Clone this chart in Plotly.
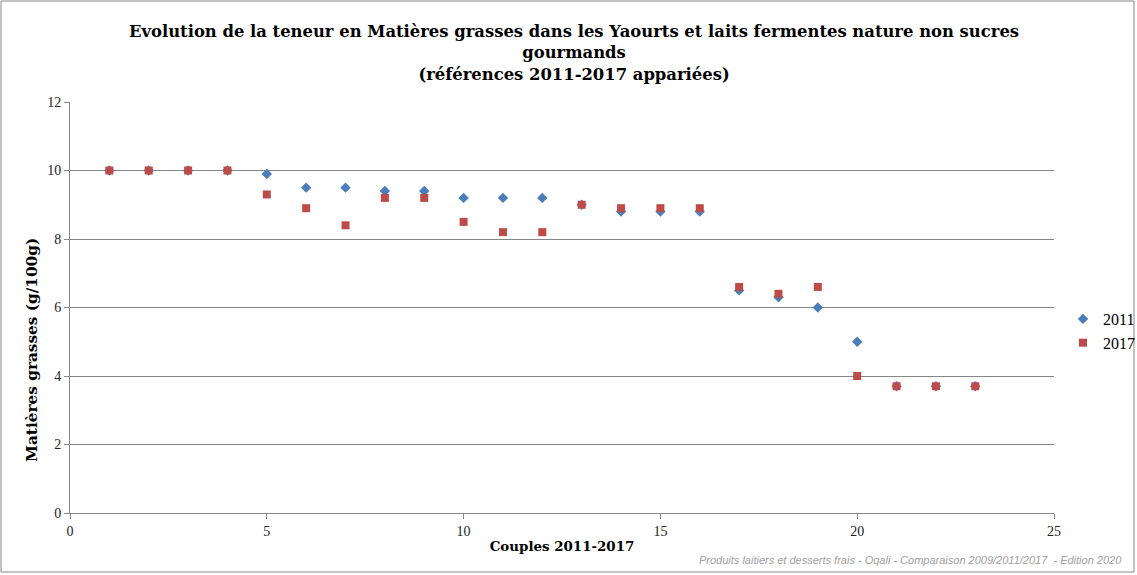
import plotly.graph_objects as go

couples = list(range(1, 24))
mg_2011 = [10, 10, 10, 10, 9.9, 9.5, 9.5, 9.4, 9.4, 9.2, 9.2, 9.2, 9.0, 8.8, 8.8, 8.8, 6.5, 6.3, 6.0, 5.0, 3.7, 3.7, 3.7]
mg_2017 = [10, 10, 10, 10, 9.3, 8.9, 8.4, 9.2, 9.2, 8.5, 8.2, 8.2, 9.0, 8.9, 8.9, 8.9, 6.6, 6.4, 6.6, 4.0, 3.7, 3.7, 3.7]

W, H = 1137, 575
L, R, T, B = 70, 83, 102, 62
pw, ph = W - L - R, H - T - B

def px_x(x):
    return (x - L) / pw

def px_y(y):
    return (T + ph - y) / ph

fig = go.Figure()
fig.add_trace(go.Scatter(x=couples, y=mg_2011, mode="markers", name="2011",
                         marker=dict(symbol="diamond", size=8, color="#4a7ebb")))
fig.add_trace(go.Scatter(x=couples, y=mg_2017, mode="markers", name="2017",
                         marker=dict(symbol="square", size=8, color="#be4b48")))

serif = "DejaVu Serif"
tickf = dict(family="Liberation Serif", size=14, color="#222")
fig.update_layout(
    width=W, height=H,
    margin=dict(l=L, r=R, t=T, b=B, autoexpand=False),
    paper_bgcolor="white", plot_bgcolor="white",
    xaxis=dict(range=[0, 25], tickvals=[0, 5, 10, 15, 20, 25], showgrid=False,
               showline=True, linecolor="#868686", linewidth=1,
               ticks="outside", ticklen=5, tickcolor="#868686",
               tickfont=tickf,
               title=dict(text="Couples 2011-2017", standoff=3,
                          font=dict(family=serif, size=13.4, color="black", weight="bold")),
               zeroline=False, automargin=False),
    yaxis=dict(range=[0, 12], tickvals=[0, 2, 4, 6, 8, 10, 12], showgrid=True,
               gridcolor="#868686", gridwidth=1,
               showline=True, linecolor="#868686", linewidth=1,
               ticks="outside", ticklen=5, tickcolor="#868686",
               tickfont=tickf,
               zeroline=False, automargin=False),
    legend=dict(x=px_x(1063), xanchor="left", y=px_y(331), yanchor="middle",
                font=dict(family="Liberation Serif", size=16, color="black"),
                itemwidth=30, tracegroupgap=0, bgcolor="rgba(0,0,0,0)"),
    showlegend=True,
)

fig.add_annotation(
    text="<b>Evolution de la teneur en Matières grasses dans les Yaourts et laits fermentes nature non sucres<br>gourmands<br>(références 2011-2017 appariées)</b>",
    xref="paper", yref="paper", x=px_x(574), y=px_y(53),
    xanchor="center", yanchor="middle", showarrow=False,
    font=dict(family=serif, size=16.4, color="black"),
)

fig.add_annotation(
    text="<b>Matières grasses (g/100g)</b>",
    xref="paper", yref="paper", x=px_x(32), y=px_y(350),
    xanchor="center", yanchor="middle", showarrow=False, textangle=-90,
    font=dict(family=serif, size=15.3, color="black"),
)

fig.add_annotation(
    text="Produits laitiers et desserts frais - Oqali - Comparaison 2009/2011/2017  - Edition 2020",
    xref="paper", yref="paper",
    x=px_x(1124), y=px_y(568),
    xanchor="right", yanchor="bottom", showarrow=False,
    font=dict(family="Liberation Sans", size=11, color="#a0a0a0", style="italic"),
)

fig.add_shape(type="rect", xref="paper", yref="paper",
              x0=px_x(1), x1=px_x(W - 3),
              y0=px_y(H - 3), y1=px_y(1),
              line=dict(color="#868686", width=1), layer="below")

fig.write_html("out.html", config={"displayModeBar": False},
               post_script="document.body.style.margin='0px';")
